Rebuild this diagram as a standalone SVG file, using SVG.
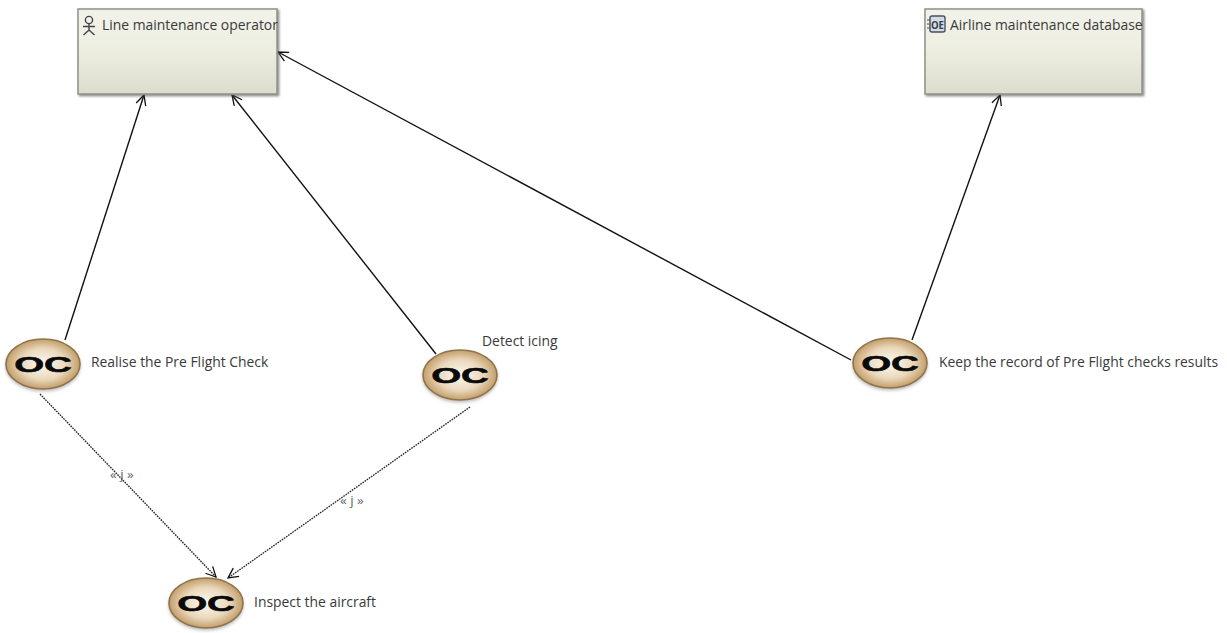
<svg xmlns="http://www.w3.org/2000/svg" width="1227" height="633" viewBox="0 0 1227 633">
<style>
text{font-family:"Open Sans","Noto Sans","DejaVu Sans",sans-serif;font-size:13.9px;fill:#3a3a3a}
.box{fill:url(#boxg);stroke:#909186;stroke-width:1.5;filter:url(#sh)}
.c{fill:none;stroke:#111;stroke-width:1.4;marker-end:url(#arr)}
.d{fill:none;stroke:#222;stroke-width:1.4;stroke-dasharray:1.6 1;marker-end:url(#arr)}
.oc{fill:url(#ocg);stroke:#8f7449;stroke-width:1.6;filter:url(#sh2)}
.lt{font-family:"Liberation Sans",Arial,sans-serif;font-weight:bold;font-size:22px;fill:#0a0a0a;text-anchor:middle;stroke:#0a0a0a;stroke-width:0.6}
.st{font-size:13.5px;fill:#666}
</style>
<defs>
<linearGradient id="boxg" x1="0" y1="0" x2="0" y2="1"><stop offset="0" stop-color="#f2f2ea"/><stop offset="0.45" stop-color="#eeefe2"/><stop offset="1" stop-color="#dcddcc"/></linearGradient>
<radialGradient id="ocg" cx="0.5" cy="0.5" r="0.55"><stop offset="0" stop-color="#fbf8f2"/><stop offset="0.55" stop-color="#ebd9bd"/><stop offset="1" stop-color="#b98f55"/></radialGradient>
<filter id="sh" x="-5%" y="-5%" width="110%" height="115%"><feDropShadow dx="1.5" dy="1.5" stdDeviation="1" flood-color="#555" flood-opacity="0.7"/></filter>
<filter id="sh2" x="-10%" y="-10%" width="120%" height="130%"><feDropShadow dx="0" dy="2" stdDeviation="1.5" flood-color="#888" flood-opacity="0.5"/></filter>
<marker id="arr" markerUnits="userSpaceOnUse" markerWidth="14" markerHeight="14" refX="11" refY="6" orient="auto"><path d="M1 1L11 6L1 11" fill="none" stroke="#111" stroke-width="1.3"/></marker>
</defs>
<g id="connectors">
<path class="c" d="M65 340L144 95"/>
<path class="c" d="M436 354L232 95"/>
<path class="c" d="M851 360L278 52"/>
<path class="c" d="M912 340L1000 95"/>
<path class="d" d="M40 394L216 577"/>
<path class="d" d="M470 407L228 578"/>
<text class="st" x="110" y="479">« j »</text>
<text class="st" x="340" y="505">« j »</text>
</g>
<g id="line-maintenance-operator">
<rect class="box" x="78" y="9" width="199" height="85"/>
<g fill="none" stroke="#444" stroke-width="1.4"><circle cx="89" cy="20" r="3.6"/><path d="M89 23.6V30M83 26.5H95M89 30L83.5 35M89 30L94.5 35"/></g>
<text x="102" y="30">Line maintenance operator</text>
</g>
<g id="airline-maintenance-database">
<rect class="box" x="925" y="9" width="217" height="85"/>
<rect x="930" y="16" width="15" height="16" rx="2" fill="#d5dbe0" stroke="#44525f" stroke-width="1.4"/>
<text x="931" y="29" style="font-size:10.5px;font-weight:bold;fill:#33414e" textLength="13" lengthAdjust="spacingAndGlyphs">OE</text>
<path d="M927 20h3M927 24h3M927 28h3" stroke="#44525f" stroke-width="1.2"/>
<text x="950" y="30">Airline maintenance database</text>
</g>
<g id="realise">
<ellipse class="oc" cx="43" cy="364" rx="37" ry="25"/>
<text class="lt" transform="translate(43 372) scale(1.75 1)">OC</text>
<text x="91" y="367">Realise the Pre Flight Check</text>
</g>
<g id="detect-icing">
<ellipse class="oc" cx="460" cy="375" rx="37" ry="25"/>
<text class="lt" transform="translate(460 383) scale(1.75 1)">OC</text>
<text x="482" y="346">Detect icing</text>
</g>
<g id="keep-record">
<ellipse class="oc" cx="890" cy="363" rx="37" ry="25"/>
<text class="lt" transform="translate(890 371) scale(1.75 1)">OC</text>
<text x="939" y="367">Keep the record of Pre Flight checks results</text>
</g>
<g id="inspect">
<ellipse class="oc" cx="206" cy="603" rx="37" ry="25"/>
<text class="lt" transform="translate(206 611) scale(1.75 1)">OC</text>
<text x="254" y="607">Inspect the aircraft</text>
</g>
</svg>
